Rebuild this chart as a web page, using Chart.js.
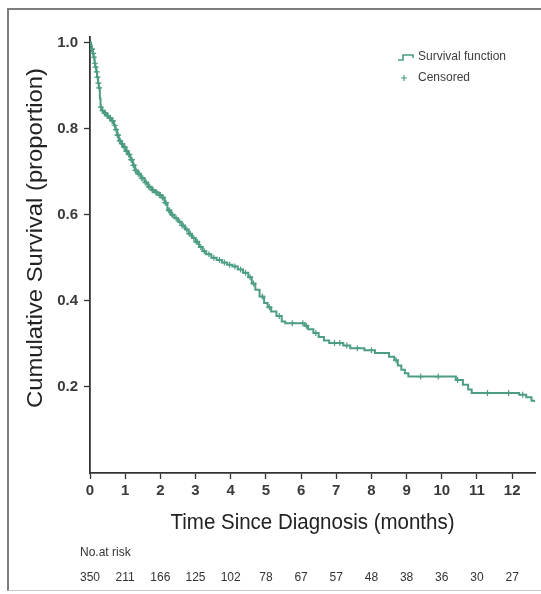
<!DOCTYPE html>
<html>
<head>
<meta charset="utf-8">
<script src="https://cdn.jsdelivr.net/npm/chart.js@4.4.1/dist/chart.umd.min.js"></script>
<style>
  html, body { margin: 0; padding: 0; background: #fff; }
  #wrap { position: relative; width: 541px; height: 594px; }
  #frame {
    position: absolute; left: 7px; top: 8px; width: 534px; height: 583px;
    border-left: 2px solid #7d7d7d; border-top: 2px solid #7d7d7d;
    border-bottom: 1px solid #c8c8c8; box-sizing: border-box;
  }
  canvas { position: absolute; left: 0; top: 0; }
</style>
</head>
<body>
<div id="wrap">
  <div id="frame"></div>
  <canvas id="km" width="541" height="594"></canvas>
</div>
<script>
// Kaplan-Meier estimate (months, proportion surviving)
const survTimes = [
  0, 0.03, 0.05, 0.08, 0.10, 0.13, 0.15, 0.18, 0.20, 0.23, 0.25, 0.28, 0.30, 0.33,
  0.40, 0.48, 0.55, 0.62, 0.68, 0.72, 0.77, 0.82, 0.88, 0.95, 1.02, 1.08, 1.15,
  1.22, 1.28, 1.35, 1.45, 1.55, 1.65, 1.75, 1.85, 1.95, 2.05, 2.12, 2.20, 2.30,
  2.40, 2.50, 2.60, 2.70, 2.80, 2.90, 3.00, 3.10, 3.20, 3.30, 3.45, 3.60, 3.75,
  3.90, 4.05, 4.20, 4.35, 4.50, 4.60, 4.70, 4.82, 4.95, 5.05, 5.15, 5.30, 5.45,
  5.55, 6.10, 6.20, 6.35, 6.50, 6.65, 6.80, 7.20, 7.40, 7.80, 8.10, 8.50, 8.65,
  8.75, 8.85, 8.95, 9.05, 10.40, 10.60, 10.75, 10.85, 12.20, 12.40, 12.55, 12.65
];
const survValues = [
  1.000, 0.994, 0.985, 0.975, 0.966, 0.952, 0.943, 0.932, 0.920, 0.906, 0.895, 0.870, 0.850, 0.842,
  0.836, 0.830, 0.825, 0.818, 0.808, 0.798, 0.785, 0.772, 0.765, 0.757, 0.748, 0.740, 0.728,
  0.715, 0.703, 0.695, 0.685, 0.675, 0.665, 0.657, 0.652, 0.646, 0.640, 0.628, 0.610, 0.600,
  0.592, 0.584, 0.575, 0.566, 0.556, 0.546, 0.537, 0.525, 0.515, 0.508, 0.500, 0.495, 0.489,
  0.484, 0.480, 0.473, 0.465, 0.455, 0.440, 0.426, 0.410, 0.395, 0.385, 0.375, 0.365, 0.352,
  0.348, 0.342, 0.334, 0.325, 0.316, 0.308, 0.302, 0.296, 0.290, 0.285, 0.279, 0.270, 0.262,
  0.250, 0.240, 0.232, 0.224, 0.216, 0.205, 0.194, 0.186, 0.182, 0.176, 0.168, 0.165
];

// censored observations (tick marks on the curve)
const censTimes = [
  0.04, 0.06, 0.09, 0.11, 0.14, 0.16, 0.19, 0.21, 0.24, 0.26, 0.31, 0.36, 0.41, 0.44,
  0.49, 0.51, 0.56, 0.58, 0.63, 0.65, 0.70, 0.74, 0.78, 0.80, 0.84, 0.86, 0.90, 0.92,
  0.97, 0.99, 1.03, 1.05, 1.10, 1.12, 1.17, 1.19, 1.23, 1.25, 1.29, 1.31, 1.37, 1.40,
  1.47, 1.50, 1.57, 1.60, 1.67, 1.70, 1.77, 1.80, 1.87, 1.90, 1.97, 2.00, 2.06, 2.08,
  2.14, 2.16, 2.24, 2.26, 2.33, 2.35, 2.45, 2.55, 2.62, 2.65, 2.75, 2.82, 2.85, 2.95,
  3.02, 3.05, 3.15, 3.25, 3.38, 3.52, 3.68, 3.82, 3.97, 4.12, 4.28, 4.42, 4.55, 4.65,
  4.90, 5.10, 5.38, 5.75, 6.05, 6.15, 6.42, 6.95, 7.10, 7.30, 7.60, 8.00, 8.70, 9.40,
  9.90, 10.45, 11.30, 11.90, 12.30
];
const censValues = [
  0.985, 0.985, 0.975, 0.966, 0.952, 0.943, 0.932, 0.920, 0.906, 0.895, 0.850, 0.842, 0.836, 0.836,
  0.830, 0.830, 0.825, 0.825, 0.818, 0.818, 0.808, 0.798, 0.785, 0.785, 0.772, 0.772, 0.765, 0.765,
  0.757, 0.757, 0.748, 0.748, 0.740, 0.740, 0.728, 0.728, 0.715, 0.715, 0.703, 0.703, 0.695, 0.695,
  0.685, 0.685, 0.675, 0.675, 0.665, 0.665, 0.657, 0.657, 0.652, 0.652, 0.646, 0.646, 0.640, 0.640,
  0.628, 0.628, 0.610, 0.610, 0.600, 0.600, 0.592, 0.584, 0.575, 0.575, 0.566, 0.556, 0.556, 0.546,
  0.537, 0.537, 0.525, 0.515, 0.508, 0.500, 0.495, 0.489, 0.484, 0.480, 0.473, 0.465, 0.455, 0.440,
  0.410, 0.385, 0.365, 0.348, 0.348, 0.342, 0.325, 0.302, 0.302, 0.296, 0.290, 0.285, 0.262, 0.224,
  0.224, 0.216, 0.186, 0.186, 0.182
];

const xTicks = [0, 1, 2, 3, 4, 5, 6, 7, 8, 9, 10, 11, 12];
const yTicks = [0.2, 0.4, 0.6, 0.8, 1.0];
const atRisk = [350, 211, 166, 125, 102, 78, 67, 57, 48, 38, 36, 30, 27];

const green = '#4c9d84';
const ink = '#333333';
const sans = '"Liberation Sans", Arial, sans-serif';

// draw text squeezed horizontally to a given width (the original uses a condensed face)
function condensedText(ctx, text, cx, cy, width, angle) {
  ctx.save();
  ctx.translate(cx, cy);
  ctx.rotate(angle);
  const w = ctx.measureText(text).width;
  ctx.scale(width / w, 1);
  ctx.fillText(text, 0, 0);
  ctx.restore();
}

const extras = {
  id: 'extras',
  afterDraw(chart) {
    const ctx = chart.ctx;
    const xs = chart.scales.x;
    ctx.save();

    // axis titles
    ctx.fillStyle = '#222';
    ctx.font = '22px ' + sans;
    ctx.textAlign = 'center';
    ctx.textBaseline = 'middle';
    condensedText(ctx, 'Cumulative Survival (proportion)', 36, 238, 340, -Math.PI / 2);
    condensedText(ctx, 'Time Since Diagnosis (months)', (chart.chartArea.left + chart.chartArea.right) / 2, 523, 284, 0);

    // legend
    ctx.strokeStyle = green;
    ctx.lineWidth = 1.6;
    ctx.beginPath();
    ctx.moveTo(398, 60);
    ctx.lineTo(403, 60);
    ctx.lineTo(403, 55);
    ctx.lineTo(413, 55);
    ctx.lineTo(413, 58);
    ctx.stroke();
    ctx.lineWidth = 1.2;
    ctx.beginPath();
    ctx.moveTo(401, 78); ctx.lineTo(407, 78);
    ctx.moveTo(404, 75); ctx.lineTo(404, 81);
    ctx.stroke();
    ctx.fillStyle = '#3d3d3d';
    ctx.font = '12px ' + sans;
    ctx.textAlign = 'left';
    ctx.fillText('Survival function', 418, 57);
    ctx.fillText('Censored', 418, 78);

    // number at risk table
    ctx.fillStyle = ink;
    ctx.font = '12px ' + sans;
    ctx.fillText('No.at risk', 80, 553);
    ctx.textAlign = 'center';
    atRisk.forEach((n, i) => {
      ctx.fillText(String(n), xs.getPixelForValue(xTicks[i]), 578);
    });
    ctx.restore();
  }
};

new Chart(document.getElementById('km'), {
  type: 'line',
  data: {
    datasets: [
      {
        label: 'Survival function',
        data: survTimes.map((t, i) => ({ x: t, y: survValues[i] })),
        stepped: true,
        borderColor: green,
        borderWidth: 2,
        pointRadius: 0,
        fill: false
      },
      {
        label: 'Censored',
        data: censTimes.map((t, i) => ({ x: t, y: censValues[i] })),
        showLine: false,
        pointStyle: 'cross',
        pointRadius: 3,
        borderColor: green,
        borderWidth: 1.2,
        backgroundColor: green
      }
    ]
  },
  options: {
    responsive: false,
    animation: false,
    layout: { padding: { left: 0, top: 37, right: 6, bottom: 0 } },
    plugins: {
      legend: { display: false },
      tooltip: { enabled: false }
    },
    scales: {
      x: {
        type: 'linear',
        min: 0,
        max: 12.65,
        afterFit: s => { s.height = 121; },
        afterBuildTicks: s => { s.ticks = xTicks.map(v => ({ value: v })); },
        grid: { drawOnChartArea: false, tickLength: 6, color: ink, tickWidth: 1.3 },
        border: { color: ink, width: 1.8 },
        ticks: {
          padding: 3,
          maxRotation: 0,
          color: '#3a3a3a',
          font: { family: sans, size: 15, weight: 'bold' }
        }
      },
      y: {
        min: 0,
        max: 1.013,
        afterFit: s => { s.width = 90; },
        afterBuildTicks: s => { s.ticks = yTicks.map(v => ({ value: v })); },
        grid: { drawOnChartArea: false, tickLength: 6, color: ink, tickWidth: 1.3 },
        border: { color: ink, width: 1.8 },
        ticks: {
          padding: 6,
          color: '#3a3a3a',
          font: { family: sans, size: 15, weight: 'bold' },
          callback: v => v.toFixed(1)
        }
      }
    }
  },
  plugins: [extras]
});
</script>
</body>
</html>
